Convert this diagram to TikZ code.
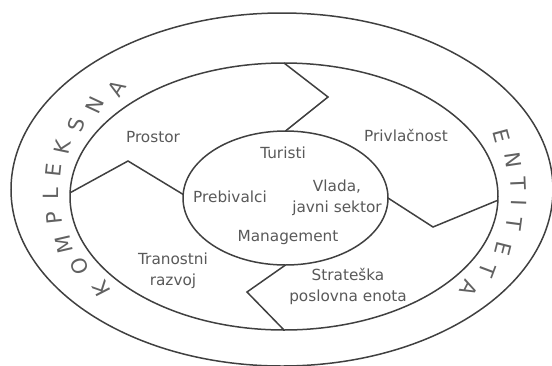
\documentclass[tikz,border=0pt]{standalone}
\usepackage{fontspec}
\setmainfont{DejaVu Sans}
\usetikzlibrary{shapes.geometric,positioning}
\tikzset{every picture/.style={
  line join=miter                % Sharp corners on the borders.
  }
}

\begin{document}
\begin{tikzpicture}[x=1pt,y=-1pt,
    shell/.style={              % The nested ellipses.
      ellipse,
      draw=black!75,
      line width=1.5pt,
      inner sep=0pt,
      outer sep=0pt
    },
    border/.style={             % Zigzag borders between the parts.
      draw=black!75,
      line width=1.5pt
    },
    lbl/.style={                % Names of the parts.
      text=black!65,
      align=center,
      font=\fontsize{15.3}{21}\selectfont,
      inner sep=0pt
    },
    ringletter/.style={         % Letters set along the outer ring.
      text=black!62,
      font=\fontsize{21}{21}\selectfont,
      inner sep=0pt
    }]

    \useasboundingbox (0,0) rectangle (552,365);

    % The three nested ellipses.
    \node[shell,minimum width=542pt,minimum height=353pt] (outer) at (282,189.5) {};
    \node[shell,minimum width=428pt,minimum height=267pt] (ring) at (284,196.5) {};
    \node[shell,minimum width=205pt,minimum height=134pt] (core) at (285.5,198) {};

    % Zigzag borders that split the middle ring.
    \coordinate (ptop) at (328,97);
    \coordinate (pleft) at (128,161);
    \coordinate (pright) at (433,227);
    \coordinate (pbottom) at (247,292);
    \draw[border] (ring.north) -- (ptop) -- (core.north);
    \draw[border] (ring.179) -- (pleft) -- (core.178);
    \draw[border] (core.east) -- (pright) -- (ring.359);
    \draw[border] (core.south) -- (pbottom) -- (ring.south);

    % Parts of the middle ring.
    \node[lbl] (prostor) at (153,137) {Prostor};
    \node[lbl] (privlacnost) at (406,135) {Privlačnost};
    \node[lbl] (razvoj) at (173,271) {Tranostni\\razvoj};
    \node[lbl] (enota) at (348,286) {Strateška\\poslovna enota};

    % Parts of the core.
    \node[lbl] (turisti) at (283,153) {Turisti};
    \node[lbl] (prebivalci) at (230,197) {Prebivalci};
    \node[lbl] (vlada) at (337,197.5) {Vlada,\\javni sektor};
    \node[lbl] (management) at (288,238) {Management};

    % Lettering round the outer ring.
    \foreach \ch/\ang [count=\i] in {K/218.5,O/208.5,M/199.5,P/189,L/179.7,
        E/170.8,K/162,S/153,N/144.3,A/135.8}{
      \pgfmathsetmacro{\rot}{atan2(152*sin(\ang),234*cos(\ang))-90}
      \node[ringletter,rotate=\rot] (kl\i) at ({285+234*cos(\ang)},{194-152*sin(\ang)}) {\ch};
    }
    \foreach \ch/\ang [count=\i] in {E/22.5,N/12.8,T/3.8,I/-3.4,T/-11.4,
        E/-21.2,T/-30,A/-38.3}{
      \pgfmathsetmacro{\rot}{atan2(152*sin(\ang),234*cos(\ang))-90}
      \node[ringletter,rotate=\rot] (el\i) at ({285+234*cos(\ang)},{194-152*sin(\ang)}) {\ch};
    }
\end{tikzpicture}
\end{document}
